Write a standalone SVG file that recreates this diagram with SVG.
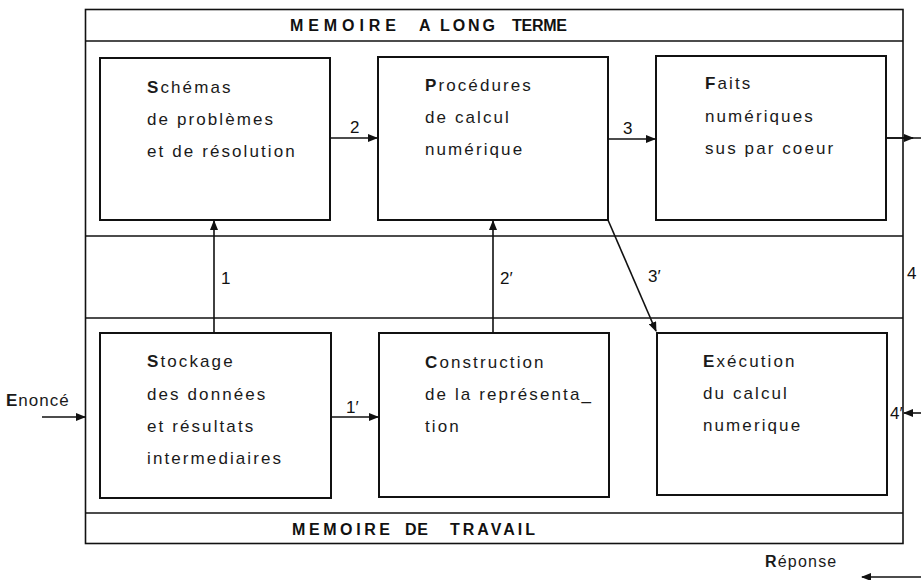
<svg xmlns="http://www.w3.org/2000/svg" width="921" height="580" viewBox="0 0 921 580">
  <style>
    .frame { fill: none; stroke: #111; stroke-width: 1.6; }
    .box { fill: #fff; stroke: #111; stroke-width: 2; }
    .wire { fill: none; stroke: #111; stroke-width: 1.6; }
    .txt { font-family: "Liberation Sans", Arial, sans-serif; font-size: 17px; letter-spacing: 2.1px; fill: #1a1a1a; }
    .ini { font-weight: bold; }
    .band { font-family: "Liberation Sans", Arial, sans-serif; font-size: 16px; font-weight: bold; fill: #111; }
    .lab { font-family: "Liberation Sans", Arial, sans-serif; font-size: 17px; fill: #111; }
  </style>
  <defs>
    <marker id="head" viewBox="0 0 10 8" refX="9" refY="4" markerWidth="10" markerHeight="8" markerUnits="userSpaceOnUse" orient="auto">
      <path d="M0,0 L10,4 L0,8 Z" fill="#111"/>
    </marker>
  </defs>

  <rect width="921" height="580" fill="#fff"/>

  <!-- memory frame and horizontal bands -->
  <g id="frame">
    <rect class="frame" x="85.5" y="9.5" width="817.5" height="534"/>
    <line class="frame" x1="85.5" y1="41" x2="903" y2="41"/>
    <line class="frame" x1="85.5" y1="236" x2="903" y2="236"/>
    <line class="frame" x1="85.5" y1="318" x2="903" y2="318"/>
    <line class="frame" x1="85.5" y1="513" x2="903" y2="513"/>
    <text class="band" y="31">
      <tspan x="290" textLength="106" lengthAdjust="spacing">MEMOIRE</tspan>
      <tspan x="419">A</tspan>
      <tspan x="440" textLength="55" lengthAdjust="spacing">LONG</tspan>
      <tspan x="512" textLength="55" lengthAdjust="spacing">TERME</tspan>
    </text>
    <text class="band" y="535">
      <tspan x="292" textLength="98" lengthAdjust="spacing">MEMOIRE</tspan>
      <tspan x="405" textLength="23" lengthAdjust="spacing">DE</tspan>
      <tspan x="450" textLength="85" lengthAdjust="spacing">TRAVAIL</tspan>
    </text>
  </g>

  <!-- long-term memory -->
  <g id="schemas">
    <rect class="box" x="100" y="58" width="230" height="162"/>
    <text class="txt" x="147" y="93"><tspan class="ini">S</tspan>chémas</text>
    <text class="txt" x="147" y="125">de  problèmes</text>
    <text class="txt" x="147" y="157">et de résolution</text>
  </g>
  <g id="procedures">
    <rect class="box" x="378" y="57" width="230" height="163"/>
    <text class="txt" x="425" y="91"><tspan class="ini">P</tspan>rocédures</text>
    <text class="txt" x="425" y="123">de  calcul</text>
    <text class="txt" x="425" y="155">numérique</text>
  </g>
  <g id="faits">
    <rect class="box" x="656" y="56" width="230" height="164"/>
    <text class="txt" x="705" y="89"><tspan class="ini">F</tspan>aits</text>
    <text class="txt" x="705" y="122">numériques</text>
    <text class="txt" x="705" y="154">sus  par coeur</text>
  </g>

  <!-- working memory -->
  <g id="stockage">
    <rect class="box" x="100" y="333" width="231" height="165"/>
    <text class="txt" x="147" y="367"><tspan class="ini">S</tspan>tockage</text>
    <text class="txt" x="147" y="400">des données</text>
    <text class="txt" x="147" y="432">et résultats</text>
    <text class="txt" x="147" y="464">intermediaires</text>
  </g>
  <g id="construction">
    <rect class="box" x="379" y="333" width="230" height="164"/>
    <text class="txt" x="425" y="368"><tspan class="ini">C</tspan>onstruction</text>
    <text class="txt" x="425" y="400">de la représenta_</text>
    <text class="txt" x="425" y="432">tion</text>
  </g>
  <g id="execution">
    <rect class="box" x="657" y="333" width="230" height="162"/>
    <text class="txt" x="703" y="367"><tspan class="ini">E</tspan>xécution</text>
    <text class="txt" x="703" y="399">du calcul</text>
    <text class="txt" x="703" y="431">numerique</text>
  </g>

  <!-- input and output -->
  <g id="enonce">
    <text class="txt" x="6" y="406" style="letter-spacing:1px"><tspan class="ini">E</tspan>noncé</text>
  </g>
  <g id="reponse">
    <text class="txt" x="765" y="567" style="font-size:16px;letter-spacing:1.2px"><tspan class="ini">R</tspan>éponse</text>
  </g>

  <!-- connectors -->
  <g id="connectors">
    <line class="wire" x1="331" y1="138" x2="377" y2="138" marker-end="url(#head)"/>
    <text class="lab" x="350" y="133">2</text>
    <line class="wire" x1="608" y1="139" x2="655" y2="139" marker-end="url(#head)"/>
    <text class="lab" x="623" y="134">3</text>
    <line class="wire" x1="886" y1="138" x2="921" y2="138"/>
    <line class="wire" x1="886" y1="138" x2="913" y2="138" marker-end="url(#head)"/>
    <text class="lab" x="907" y="279">4</text>

    <line class="wire" x1="214" y1="333" x2="214" y2="221" marker-end="url(#head)"/>
    <text class="lab" x="221" y="284">1</text>
    <line class="wire" x1="493" y1="333" x2="493" y2="221" marker-end="url(#head)"/>
    <text class="lab" x="500" y="284">2′</text>
    <line class="wire" x1="608" y1="220" x2="656" y2="331" marker-end="url(#head)"/>
    <text class="lab" x="648" y="282">3′</text>

    <line class="wire" x1="331" y1="417" x2="378" y2="417" marker-end="url(#head)"/>
    <text class="lab" x="346" y="413">1′</text>
    <line class="wire" x1="42" y1="417" x2="85" y2="417" marker-end="url(#head)"/>
    <line class="wire" x1="921" y1="413" x2="904" y2="413" marker-end="url(#head)"/>
    <text class="lab" x="890" y="419">4′</text>
    <line class="wire" x1="921" y1="577" x2="862" y2="577" marker-end="url(#head)"/>
  </g>
</svg>
